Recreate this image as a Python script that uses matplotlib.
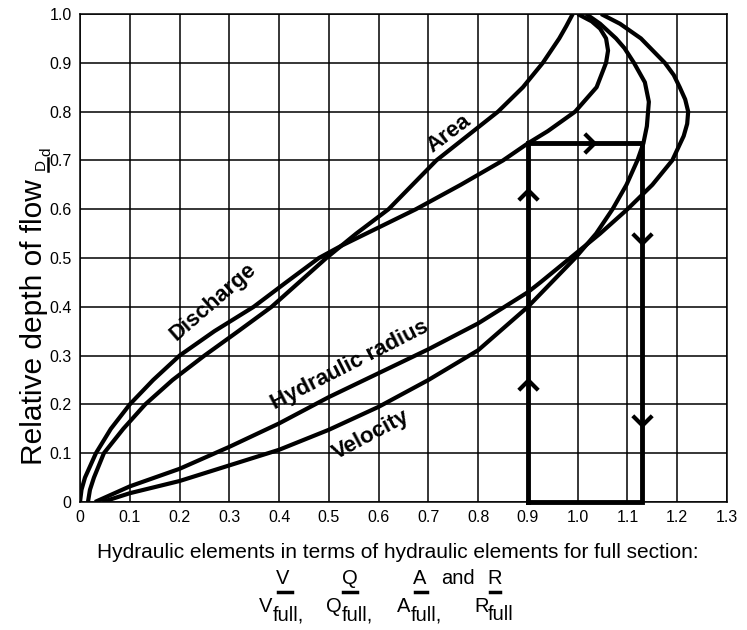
import matplotlib
matplotlib.use('Agg')
import matplotlib.pyplot as plt
from matplotlib.lines import Line2D

plt.rcParams['font.family'] = ['DejaVu Sans Condensed', 'Liberation Sans Narrow', 'Liberation Sans']

# values: relative depth d/D and the matching ratio to the full section
area_depth = [0, 0.025, 0.05, 0.1, 0.15, 0.2, 0.25, 0.3, 0.35, 0.4, 0.45, 0.5, 0.525, 0.55, 0.6,
              0.65, 0.7, 0.75, 0.8, 0.85, 0.9, 0.95, 0.975, 1.0]
area_value = [0.016, 0.02, 0.028, 0.048, 0.087, 0.131, 0.186, 0.25, 0.318, 0.385, 0.44, 0.495, 0.525, 0.555, 0.62,
              0.668, 0.716, 0.778, 0.84, 0.89, 0.93, 0.963, 0.977, 0.99]

discharge_depth = [0, 0.025, 0.05, 0.1, 0.15, 0.2, 0.25, 0.3, 0.35, 0.4, 0.45, 0.5, 0.525, 0.55, 0.6, 0.65,
                   0.7, 0.735, 0.76, 0.8, 0.85, 0.9, 0.925, 0.95, 0.97, 0.985, 1.0]
discharge_value = [0.0, 0.003, 0.01, 0.032, 0.062, 0.1, 0.147, 0.2, 0.27, 0.349, 0.414, 0.48, 0.525, 0.575, 0.675, 0.765,
                   0.85, 0.9, 0.94, 0.995, 1.038, 1.057, 1.061, 1.057, 1.045, 1.028, 1.0]

radius_depth = [0, 0.032, 0.068, 0.113, 0.161, 0.215, 0.264, 0.313, 0.366, 0.43, 0.45, 0.5, 0.55, 0.6, 0.65,
                0.7, 0.75, 0.775, 0.8, 0.825, 0.85, 0.875, 0.9, 0.95, 0.98, 1.0]
radius_value = [0.03, 0.1, 0.2, 0.3, 0.4, 0.5, 0.6, 0.7, 0.8, 0.9, 0.925, 0.985, 1.045, 1.1, 1.15,
                1.19, 1.213, 1.22, 1.222, 1.216, 1.205, 1.193, 1.175, 1.127, 1.085, 1.047]

velocity_depth = [0, 0.018, 0.043, 0.075, 0.107, 0.148, 0.195, 0.25, 0.311, 0.4, 0.5, 0.55, 0.6, 0.65,
                  0.7, 0.735, 0.77, 0.82, 0.86, 0.9, 0.93, 0.95, 0.98, 1.0]
velocity_value = [0.045, 0.1, 0.2, 0.3, 0.4, 0.5, 0.6, 0.7, 0.8, 0.9, 0.995, 1.037, 1.07, 1.098,
                  1.12, 1.132, 1.139, 1.143, 1.135, 1.113, 1.094, 1.077, 1.045, 1.017]

x_ticks = [0, 0.1, 0.2, 0.3, 0.4, 0.5, 0.6, 0.7, 0.8, 0.9, 1.0, 1.1, 1.2, 1.3]
x_labels = ['0', '0.1', '0.2', '0.3', '0.4', '0.5', '0.6', '0.7', '0.8', '0.9', '1.0', '1.1', '1.2', '1.3']
y_ticks = [0, 0.1, 0.2, 0.3, 0.4, 0.5, 0.6, 0.7, 0.8, 0.9, 1.0]
y_labels = ['0', '0.1', '0.2', '0.3', '0.4', '0.5', '0.6', '0.7', '0.8', '0.9', '1.0']

# worked example: d/D = 0.735 -> Q/Qfull = 0.90, V/Vfull = 1.13
ex_depth = 0.735
ex_q = 0.9
ex_v = 1.13

fig = plt.figure(figsize=(7.47, 6.3), dpi=100)
ax = fig.add_axes([80 / 747, 1 - 502 / 630, 647 / 747, 488 / 630])

ax.set_xlim(0, 1.3)
ax.set_ylim(0, 1.0)
ax.set_xticks(x_ticks)
ax.set_xticklabels(x_labels)
ax.set_yticks(y_ticks)
ax.set_yticklabels(y_labels)
ax.tick_params(length=0, labelsize=11.5, pad=6)
ax.grid(True, color='black', lw=1.1)
ax.set_axisbelow(True)
for s in ax.spines.values():
    s.set_linewidth(1.1)

lw = 3.0
ax.plot(area_value, area_depth, color='black', lw=lw, solid_capstyle='butt')
ax.plot(discharge_value, discharge_depth, color='black', lw=lw, solid_capstyle='butt')
ax.plot(radius_value, radius_depth, color='black', lw=lw, solid_capstyle='butt')
ax.plot(velocity_value, velocity_depth, color='black', lw=lw, solid_capstyle='butt')

# example path
ax.plot([ex_q, ex_q, ex_v, ex_v, ex_q], [0, ex_depth, ex_depth, 0, 0],
        color='black', lw=3.5, clip_on=False, solid_joinstyle='miter')

up = [(-1, -1), (0, 0), (1, -1)]
down = [(-1, 1), (0, 0), (1, 1)]
right = [(-1, 1), (0, 0), (-1, -1)]
ax.plot([ex_q, ex_q], [0.25, 0.639], ls='none', marker=up, ms=14, mew=3,
        mec='black', fillstyle='none')
ax.plot([ex_v, ex_v], [0.53, 0.158], ls='none', marker=down, ms=14, mew=3,
        mec='black', fillstyle='none')
ax.plot([1.032], [ex_depth], ls='none', marker=right, ms=14, mew=3,
        mec='black', fillstyle='none')

# curve labels
lab = dict(fontsize=16, fontweight='bold', ha='center', va='center', rotation_mode='anchor')
ax.text(0.267, 0.41, 'Discharge', rotation=41, **lab)
ax.text(0.741, 0.754, 'Area', rotation=37, **lab)
ax.text(0.541, 0.281, 'Hydraulic radius', rotation=27, **lab)
ax.text(0.585, 0.137, 'Velocity', rotation=28, **lab)

# axis titles
def fx(px):
    return px / 747

def fy(py):
    return 1 - py / 630

fig.text(fx(398), fy(553), 'Hydraulic elements in terms of hydraulic elements for full section:',
         fontsize=15, ha='center', va='center')
fig.text(fx(34), fy(322), 'Relative depth of flow', fontsize=21.5, rotation=90,
         ha='center', va='center')
fig.text(fx(41), fy(164), 'D', fontsize=11, rotation=90, ha='center', va='center')
fig.text(fx(46), fy(152), 'd', fontsize=11, rotation=90, ha='center', va='center')
fig.add_artist(Line2D([fx(48), fx(48)], [fy(158), fy(171)], color='black', lw=1.8))

# ratio legend under the x title
fs = 14.5
for num, cx, bx0, bx1, den, dx, w, sub in [('V', 283, 278, 292, 'V', 259, 14, 'full,'),
                                            ('Q', 350, 343, 357, 'Q', 326, 16, 'full,'),
                                            ('A', 420, 415, 427, 'A', 397, 14, 'full,'),
                                            ('R', 495, 490, 500, 'R', 474, 14, 'full')]:
    fig.text(fx(cx), fy(579), num, fontsize=fs, ha='center', va='center')
    fig.add_artist(Line2D([fx(bx0), fx(bx1)], [fy(591.5), fy(591.5)], color='black', lw=2.5))
    fig.text(fx(dx), fy(607), den, fontsize=fs, ha='left', va='center')
    fig.text(fx(dx + w), fy(615), sub, fontsize=fs, ha='left', va='center')
fig.text(fx(458), fy(578), 'and', fontsize=fs, ha='center', va='center')

fig.savefig('out.png', dpi=100)
